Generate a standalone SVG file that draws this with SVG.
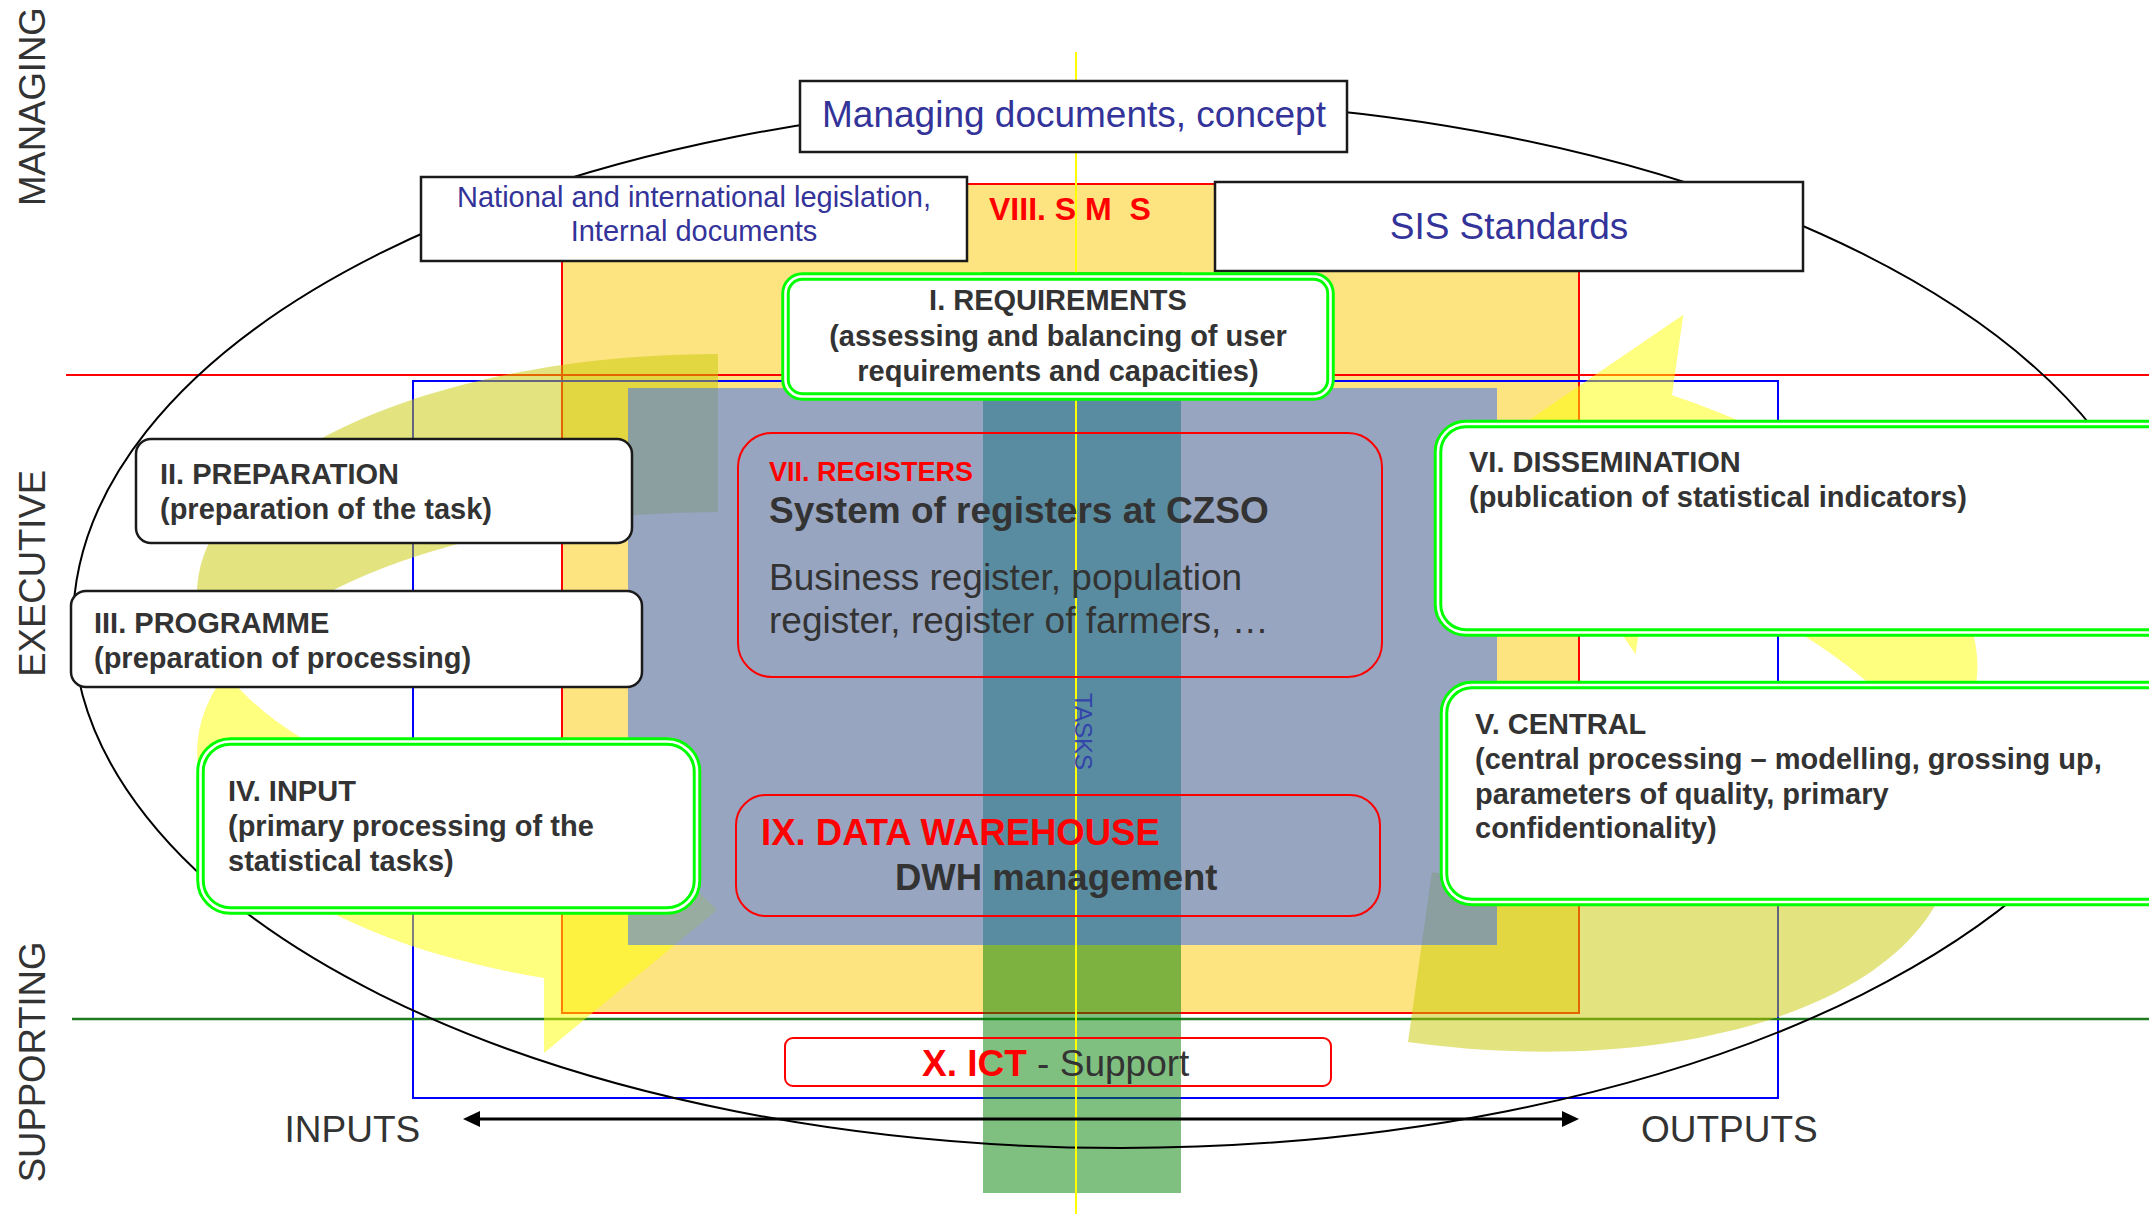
<svg xmlns="http://www.w3.org/2000/svg" width="2149" height="1214" viewBox="0 0 2149 1214">
<defs>
<style>
text{font-family:"Liberation Sans",Arial,sans-serif}
.b{font-weight:bold}
.dk{fill:#333333}
.nv{fill:#333399}
.rd{fill:#ff0000}
.bx{fill:#ffffff;stroke:#1a1a1a;stroke-width:2.5}
.gbo{fill:#ffffff;stroke:#00ff00;stroke-width:8.5}
.gbi{fill:none;stroke:#ffffff;stroke-width:2.6}
.rb{fill:none;stroke:#ff0000;stroke-width:2}
.back{fill:#c7c900;fill-opacity:0.5}
.front{fill:#ffff00;fill-opacity:0.5}
</style>
<g id="arrowShape">
<path class="back" d="M0,-240 A521,240 0 0 0 -492,79 A521,240 0 0 1 0,-82 Z"/>
<path class="front" d="M-492,79 A521,240 0 0 0 -174,384 L-174,459 L-1,316 L-174,143 L-174,226 A521,240 0 0 1 -492,79 Z"/>
</g>
</defs>
<rect width="2149" height="1214" fill="#ffffff"/>

<g id="background">
<rect x="562" y="184" width="1017" height="829" fill="#fde481" stroke="#ff0000" stroke-width="2"/>
<rect x="413" y="381" width="1365" height="717" fill="none" stroke="#0000ff" stroke-width="2"/>
<line x1="66" y1="375" x2="2149" y2="375" stroke="#ff0000" stroke-width="2.2"/>
<line x1="72" y1="1019" x2="2149" y2="1019" stroke="#1e7b1e" stroke-width="2.5"/>
</g>

<g id="cycle-arrows">
<use href="#arrowShape" transform="translate(718,594)"/>
<use href="#arrowShape" transform="translate(1444.25,784.1) rotate(188) scale(0.985,1.085)"/>
</g>

<g id="tasks-strip">
<rect x="983" y="272" width="198" height="921" fill="#008000" fill-opacity="0.5"/>
</g>
<g id="core-area">
<rect x="628" y="388" width="869" height="557" fill="#3366ff" fill-opacity="0.5"/>
</g>

<ellipse cx="1121" cy="624" rx="1048" ry="524" fill="none" stroke="#000000" stroke-width="2"/>
<line x1="1076" y1="52" x2="1076" y2="1214" stroke="#ffff00" stroke-width="2"/>

<text class="b rd" x="989" y="220" font-size="32" xml:space="preserve">VIII. S M  S</text>
<text transform="translate(1075,693) rotate(90)" font-size="24" fill="#3344aa">TASKS</text>

<g id="managing-docs">
<rect class="bx" x="800" y="81" width="547" height="71"/>
<text class="nv" x="1074" y="127" font-size="37" text-anchor="middle">Managing documents, concept</text>
</g>
<g id="legislation">
<rect class="bx" x="421" y="177" width="546" height="84"/>
<text class="nv" x="694" y="207" font-size="29" text-anchor="middle">National and international legislation,</text>
<text class="nv" x="694" y="241" font-size="29" text-anchor="middle">Internal documents</text>
</g>
<g id="sis-standards">
<rect class="bx" x="1215" y="182" width="588" height="89"/>
<text class="nv" x="1509" y="239" font-size="37" text-anchor="middle">SIS Standards</text>
</g>

<g id="requirements">
<rect class="gbo" x="785.5" y="276.5" width="545" height="120" rx="17"/>
<rect class="gbi" x="785.5" y="276.5" width="545" height="120" rx="17"/>
<text class="b dk" font-size="29" text-anchor="middle"><tspan x="1058" y="310">I. REQUIREMENTS</tspan><tspan x="1058" y="345.5">(assessing and balancing of user</tspan><tspan x="1058" y="380.5">requirements and capacities)</tspan></text>
</g>

<g id="preparation">
<rect class="bx" x="136" y="439" width="496" height="104" rx="15"/>
<text class="b dk" font-size="29"><tspan x="160" y="484">II. PREPARATION</tspan><tspan x="160" y="519">(preparation of the task)</tspan></text>
</g>

<g id="programme">
<rect class="bx" x="71" y="591" width="571" height="96" rx="15"/>
<text class="b dk" font-size="29"><tspan x="94" y="632.5">III. PROGRAMME</tspan><tspan x="94" y="667.5">(preparation of processing)</tspan></text>
</g>

<g id="input">
<rect class="gbo" x="200.5" y="741.5" width="496.5" height="169" rx="30"/>
<rect class="gbi" x="200.5" y="741.5" width="496.5" height="169" rx="30"/>
<text class="b dk" font-size="29"><tspan x="228" y="801">IV. INPUT</tspan><tspan x="228" y="836">(primary processing of the</tspan><tspan x="228" y="870.5">statistical tasks)</tspan></text>
</g>

<g id="dissemination">
<rect class="gbo" x="1438" y="424" width="1705" height="208.5" rx="28"/>
<rect class="gbi" x="1438" y="424" width="1705" height="208.5" rx="28"/>
<text class="b dk" font-size="29"><tspan x="1469" y="471.5">VI. DISSEMINATION</tspan><tspan x="1469" y="507">(publication of statistical indicators)</tspan></text>
</g>

<g id="central">
<rect class="gbo" x="1444" y="685" width="1699" height="217" rx="28"/>
<rect class="gbi" x="1444" y="685" width="1699" height="217" rx="28"/>
<text class="b dk" font-size="29"><tspan x="1475" y="734">V. CENTRAL</tspan><tspan x="1475" y="769">(central processing – modelling, grossing up,</tspan><tspan x="1475" y="803.5">parameters of quality, primary</tspan><tspan x="1475" y="838">confidentionality)</tspan></text>
</g>

<g id="registers">
<rect class="rb" x="738" y="433" width="644" height="244" rx="34"/>
<text class="b rd" x="769" y="481" font-size="27">VII. REGISTERS</text>
<text class="b dk" x="769" y="523" font-size="37">System of registers at CZSO</text>
<text class="dk" font-size="37"><tspan x="769" y="590">Business register, population</tspan><tspan x="769" y="633">register, register of farmers, …</tspan></text>
</g>

<g id="data-warehouse">
<rect class="rb" x="736" y="795" width="644" height="121" rx="30"/>
<text class="b rd" x="761" y="845" font-size="36.5">IX. DATA WAREHOUSE</text>
<text class="b dk" x="895" y="890" font-size="36.5">DWH management</text>
</g>

<g id="ict">
<rect class="rb" x="785" y="1038" width="546" height="48" rx="8"/>
<text x="922" y="1076" font-size="37"><tspan class="b rd">X. ICT</tspan><tspan class="dk"> - Support</tspan></text>
</g>

<g id="connectors">
<line x1="478" y1="1119" x2="1564" y2="1119" stroke="#000000" stroke-width="3"/>
<polygon points="463,1119 480,1111 480,1127" fill="#000000"/>
<polygon points="1579,1119 1562,1111 1562,1127" fill="#000000"/>
</g>

<g id="axis-labels">
<text class="dk" x="284.5" y="1142" font-size="37">INPUTS</text>
<text class="dk" x="1641" y="1142" font-size="37">OUTPUTS</text>
<text class="dk" font-size="36.5" text-anchor="middle" transform="translate(45,106.7) rotate(-90)">MANAGING</text>
<text class="dk" font-size="36.5" text-anchor="middle" transform="translate(45,573.3) rotate(-90)">EXECUTIVE</text>
<text class="dk" font-size="36.5" text-anchor="middle" transform="translate(45,1062) rotate(-90)">SUPPORTING</text>
</g>
</svg>
